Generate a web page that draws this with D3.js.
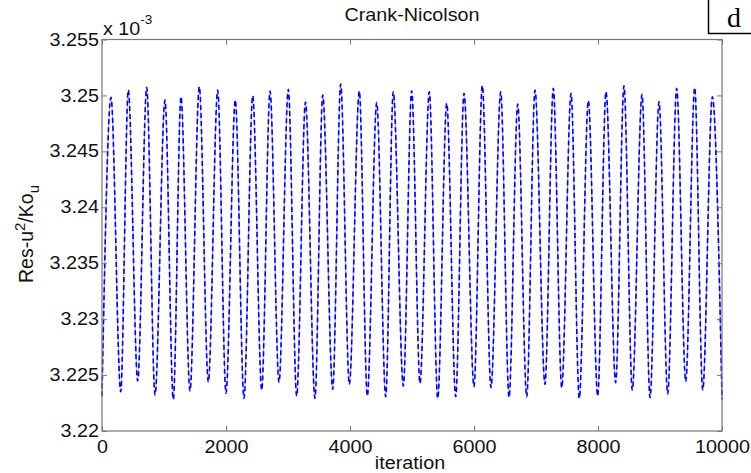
<!DOCTYPE html>
<html>
<head>
<meta charset="utf-8">
<script src="https://cdn.jsdelivr.net/npm/d3@7"></script>
<style>
  html, body { margin: 0; padding: 0; background: #fff; }
  svg { display: block; }
</style>
</head>
<body>
<div id="chart"></div>
<script>
// residual (x 10^-3) at the turning points of the oscillation
var iteration = [
  0, 145, 302, 424, 576, 721, 855, 1016, 1150, 1274, 1419, 1569, 1715, 1866, 2000,
  2150, 2290, 2431, 2576, 2710, 2855, 3005, 3140, 3282, 3435, 3560, 3721, 3850, 3989,
  4150, 4279, 4431, 4576, 4698, 4860, 4995, 5129, 5279, 5415, 5560, 5705, 5839, 6000,
  6134, 6274, 6431, 6565, 6705, 6850, 6984, 7145, 7279, 7415, 7565, 7698, 7844, 7995,
  8129, 8285, 8419, 8553, 8710, 8839, 8984, 9124, 9269, 9415, 9560, 9689, 9844, 10000
];
var residual = [
  3.2231, 3.24983, 3.22351, 3.25048, 3.22447, 3.25072, 3.22322, 3.24959, 3.22283, 3.24988,
  3.22357, 3.25078, 3.22438, 3.25048, 3.22337, 3.24959, 3.22292, 3.24997, 3.22366, 3.25039,
  3.22435, 3.25055, 3.22313, 3.24941, 3.22292, 3.25004, 3.22373, 3.25102, 3.22417, 3.25039,
  3.22313, 3.24938, 3.22306, 3.25033, 3.22402, 3.25042, 3.22426, 3.25033, 3.22292, 3.24929,
  3.22306, 3.25019, 3.22396, 3.25087, 3.22387, 3.25033, 3.22301, 3.24923, 3.22306, 3.25048,
  3.22417, 3.25063, 3.22387, 3.25019, 3.22292, 3.24953, 3.22313, 3.25033, 3.22432, 3.25087,
  3.22366, 3.25010, 3.22298, 3.24944, 3.22331, 3.25063, 3.22441, 3.25069, 3.22366, 3.24988,
  3.22283
];
var xTicks = [0, 2000, 4000, 6000, 8000, 10000];
var xTickLabels = ['0', '2000', '4000', '6000', '8000', '10000'];
var yTicks = [3.22, 3.225, 3.23, 3.235, 3.24, 3.245, 3.25, 3.255];
var yTickLabels = ['3.22', '3.225', '3.23', '3.235', '3.24', '3.245', '3.25', '3.255'];

var W = 751, H = 473;
var margin = { top: 39.5, right: 29, bottom: 42, left: 102 };
var width = W - margin.left - margin.right;
var height = H - margin.top - margin.bottom;
var font = '"Liberation Sans", Arial, Helvetica, sans-serif';
var fs = 17.5;
var stretch = 'scale(1.13,1)';

var data = iteration.map(function (it, i) { return { x: it, y: residual[i] }; });

var x = d3.scaleLinear().domain([0, 10000]).range([0, width]);
var y = d3.scaleLinear().domain([3.22, 3.255]).range([height, 0]);

var svg = d3.select('#chart').append('svg')
    .attr('width', W)
    .attr('height', H)
    .style('font-family', font);

svg.append('rect').attr('width', W).attr('height', H).attr('fill', '#fff');

var g = svg.append('g')
    .attr('transform', 'translate(' + margin.left + ',' + margin.top + ')');

// series: light solid underlay + dashed blue on top
var line = d3.line()
    .x(function (d) { return x(d.x); })
    .y(function (d) { return y(d.y); })
    .curve(d3.curveMonotoneX);

g.append('path')
    .datum(data)
    .attr('d', line)
    .attr('fill', 'none')
    .attr('stroke', '#9c9cff')
    .attr('stroke-width', 1.2);

g.append('path')
    .datum(data)
    .attr('d', line)
    .attr('fill', 'none')
    .attr('stroke', '#0000ff')
    .attr('stroke-width', 1.6)
    .attr('stroke-dasharray', '5,3');

function styleAxis(sel) {
  sel.select('.domain').remove();
  sel.selectAll('line').attr('stroke', '#777').attr('stroke-width', 1);
  sel.selectAll('text')
      .attr('fill', '#111')
      .style('font-family', font)
      .style('font-size', fs + 'px');
}

var xAxis = g.append('g')
    .attr('transform', 'translate(0,' + height + ')')
    .call(d3.axisBottom(x).tickValues(xTicks)
      .tickFormat(function (d, i) { return xTickLabels[i]; })
      .tickSizeInner(-5).tickSizeOuter(0).tickPadding(10));
styleAxis(xAxis);
xAxis.selectAll('text').attr('transform', stretch);

var yAxis = g.append('g')
    .call(d3.axisLeft(y).tickValues(yTicks)
      .tickFormat(function (d, i) { return yTickLabels[i]; })
      .tickSizeInner(-5).tickSizeOuter(0).tickPadding(2.7));
styleAxis(yAxis);
yAxis.selectAll('text').attr('transform', stretch);

// mirrored ticks on top and right
var topAxis = g.append('g')
    .call(d3.axisTop(x).tickValues(xTicks).tickFormat('').tickSizeInner(-5).tickSizeOuter(0));
styleAxis(topAxis);

var rightAxis = g.append('g')
    .attr('transform', 'translate(' + width + ',0)')
    .call(d3.axisRight(y).tickValues(yTicks).tickFormat('').tickSizeInner(-5).tickSizeOuter(0));
styleAxis(rightAxis);

g.append('rect')
    .attr('width', width)
    .attr('height', height)
    .attr('fill', 'none')
    .attr('stroke', '#777')
    .attr('stroke-width', 1.2);

// exponent note above the y axis
var expo = svg.append('text')
    .attr('transform', 'translate(' + (margin.left + 1) + ',34.5) ' + stretch)
    .attr('fill', '#111')
    .style('font-size', fs + 'px');
expo.append('tspan').text('x 10');
expo.append('tspan')
    .attr('dy', -10.5)
    .style('font-size', '12px')
    .text('-3');

// title
svg.append('text')
    .attr('transform', 'translate(' + (margin.left + width / 2) + ',21) ' + stretch)
    .attr('text-anchor', 'middle')
    .attr('fill', '#111')
    .style('font-size', fs + 'px')
    .text('Crank-Nicolson');

// x label
svg.append('text')
    .attr('transform', 'translate(' + (margin.left + width / 2 - 2) + ',469) ' + stretch)
    .attr('text-anchor', 'middle')
    .attr('fill', '#111')
    .style('font-size', fs + 'px')
    .text('iteration');

// y label
var ylab = svg.append('text')
    .attr('transform', 'translate(33,234) rotate(-90)')
    .attr('text-anchor', 'middle')
    .attr('fill', '#111')
    .style('font-size', '19.5px');
ylab.append('tspan').text('Res-u');
ylab.append('tspan').attr('dy', -8).style('font-size', '15px').text('2');
ylab.append('tspan').attr('dy', 8).text('/Ko');
ylab.append('tspan').attr('dy', 6).style('font-size', '15px').text('u');

// panel letter box in the top right corner
svg.append('rect')
    .attr('x', 708.5)
    .attr('y', -10)
    .attr('width', 60)
    .attr('height', 43.5)
    .attr('fill', '#fff')
    .attr('stroke', '#000')
    .attr('stroke-width', 1.5);

svg.append('text')
    .attr('x', 727)
    .attr('y', 27)
    .attr('fill', '#000')
    .style('font-family', '"Liberation Serif", "Times New Roman", serif')
    .style('font-size', '28px')
    .text('d');
</script>
</body>
</html>
